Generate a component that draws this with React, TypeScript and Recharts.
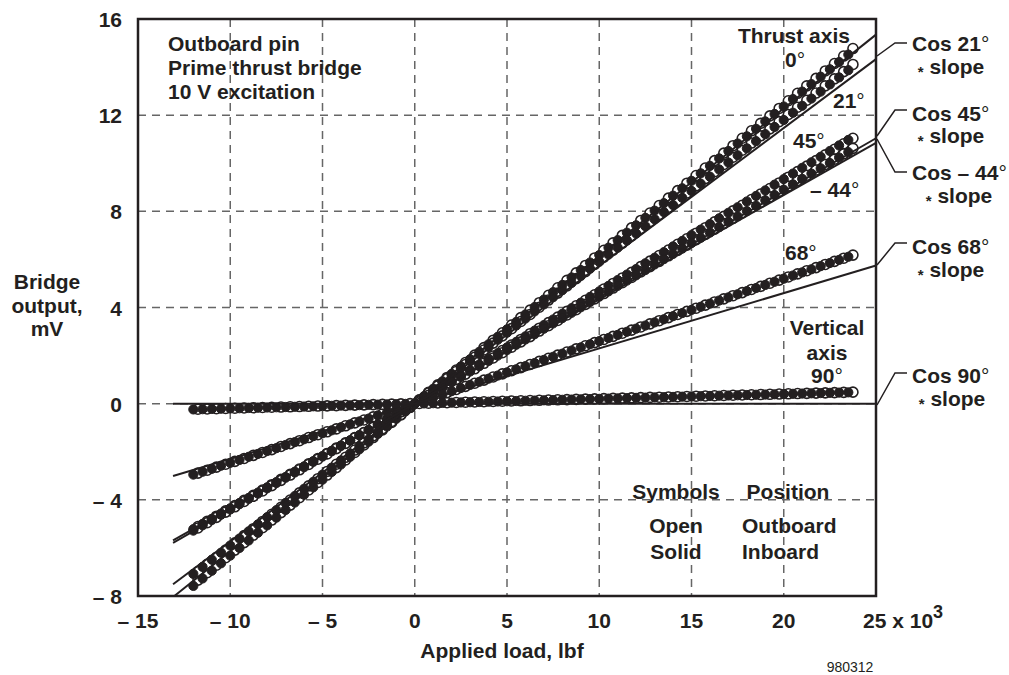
import React from "react";
import {
  ScatterChart,
  Scatter,
  XAxis,
  YAxis,
  CartesianGrid,
  ReferenceArea,
} from "recharts";

const X_TICKS = [-15, -10, -5, 0, 5, 10, 15, 20, 25];
const Y_TICKS = [-8, -4, 0, 4, 8, 12, 16];

// applied load (x 10^3 lbf): solid = inboard, open = outboard
const LOADS_IN = [
  -12, -11.5, -11, -10.5, -10, -9.5, -9, -8.5, -8, -7.5, -7, -6.5, -6, -5.5, -5, -4.5, -4, -3.5, -3, -2.5, -2, -1.5, -1, -0.5, 0,
  0.5, 1, 1.5, 2, 2.5, 3, 3.5, 4, 4.5, 5, 5.5, 6, 6.5, 7, 7.5, 8, 8.5, 9, 9.5, 10, 10.5, 11, 11.5, 12,
  12.5, 13, 13.5, 14, 14.5, 15, 15.5, 16, 16.5, 17, 17.5, 18, 18.5, 19, 19.5, 20, 20.5, 21, 21.5, 22, 22.5, 23, 23.5,
];
const LOADS_OUT = [
  -11.75, -11.25, -10.75, -10.25, -9.75, -9.25, -8.75, -8.25, -7.75, -7.25, -6.75, -6.25, -5.75, -5.25, -4.75, -4.25, -3.75, -3.25, -2.75, -2.25, -1.75, -1.25, -0.75, -0.25,
  0.25, 0.75, 1.25, 1.75, 2.25, 2.75, 3.25, 3.75, 4.25, 4.75, 5.25, 5.75, 6.25, 6.75, 7.25, 7.75, 8.25, 8.75, 9.25, 9.75, 10.25, 10.75, 11.25, 11.75,
  12.25, 12.75, 13.25, 13.75, 14.25, 14.75, 15.25, 15.75, 16.25, 16.75, 17.25, 17.75, 18.25, 18.75, 19.25, 19.75, 20.25, 20.75, 21.25, 21.75, 22.25, 22.75, 23.25, 23.75,
];

// bridge output, mV
const IN_0 = [
  -7.58, -7.27, -6.95, -6.64, -6.32, -6.0, -5.69, -5.37, -5.06, -4.74, -4.42, -4.11, -3.79, -3.48, -3.16, -2.84, -2.53, -2.21, -1.9, -1.58, -1.26, -0.95, -0.63, -0.32, 0,
  0.31, 0.62, 0.93, 1.24, 1.55, 1.85, 2.16, 2.47, 2.78, 3.09, 3.4, 3.71, 4.02, 4.33, 4.64, 4.94, 5.25, 5.56, 5.87, 6.18, 6.49, 6.8, 7.11, 7.42,
  7.73, 8.03, 8.34, 8.65, 8.96, 9.27, 9.58, 9.89, 10.2, 10.51, 10.82, 11.12, 11.43, 11.74, 12.05, 12.36, 12.67, 12.98, 13.29, 13.6, 13.91, 14.21, 14.52,
];
const OUT_0 = [
  -7.34, -7.03, -6.72, -6.41, -6.09, -5.78, -5.47, -5.16, -4.84, -4.53, -4.22, -3.91, -3.59, -3.28, -2.97, -2.66, -2.34, -2.03, -1.72, -1.41, -1.09, -0.78, -0.47, -0.16,
  0.16, 0.47, 0.78, 1.09, 1.4, 1.71, 2.02, 2.33, 2.64, 2.95, 3.27, 3.58, 3.89, 4.2, 4.51, 4.82, 5.13, 5.44, 5.75, 6.06, 6.38, 6.69, 7.0, 7.31,
  7.62, 7.93, 8.24, 8.55, 8.86, 9.17, 9.49, 9.8, 10.11, 10.42, 10.73, 11.04, 11.35, 11.66, 11.97, 12.28, 12.6, 12.91, 13.22, 13.53, 13.84, 14.15, 14.46, 14.77,
];
const IN_21 = [
  -7.08, -6.79, -6.49, -6.2, -5.9, -5.61, -5.31, -5.02, -4.72, -4.43, -4.13, -3.84, -3.54, -3.25, -2.95, -2.66, -2.36, -2.07, -1.77, -1.48, -1.18, -0.89, -0.59, -0.3, 0,
  0.3, 0.59, 0.89, 1.18, 1.48, 1.77, 2.07, 2.36, 2.66, 2.95, 3.25, 3.54, 3.84, 4.13, 4.43, 4.72, 5.02, 5.31, 5.61, 5.9, 6.2, 6.49, 6.79, 7.08,
  7.38, 7.67, 7.97, 8.26, 8.56, 8.85, 9.15, 9.44, 9.74, 10.03, 10.33, 10.62, 10.92, 11.21, 11.51, 11.8, 12.1, 12.39, 12.69, 12.98, 13.28, 13.57, 13.87,
];
const OUT_21 = [
  -6.98, -6.68, -6.39, -6.09, -5.79, -5.49, -5.2, -4.9, -4.6, -4.31, -4.01, -3.71, -3.42, -3.12, -2.82, -2.52, -2.23, -1.93, -1.63, -1.34, -1.04, -0.74, -0.45, -0.15,
  0.15, 0.45, 0.74, 1.04, 1.34, 1.63, 1.93, 2.23, 2.52, 2.82, 3.12, 3.42, 3.71, 4.01, 4.31, 4.6, 4.9, 5.2, 5.49, 5.79, 6.09, 6.39, 6.68, 6.98,
  7.28, 7.57, 7.87, 8.17, 8.46, 8.76, 9.06, 9.36, 9.65, 9.95, 10.25, 10.54, 10.84, 11.14, 11.43, 11.73, 12.03, 12.33, 12.62, 12.92, 13.22, 13.51, 13.81, 14.11,
];
const IN_45 = [
  -5.22, -5.0, -4.79, -4.57, -4.35, -4.13, -3.92, -3.7, -3.48, -3.26, -3.05, -2.83, -2.61, -2.39, -2.18, -1.96, -1.74, -1.52, -1.31, -1.09, -0.87, -0.65, -0.44, -0.22, 0,
  0.23, 0.47, 0.7, 0.93, 1.17, 1.4, 1.63, 1.87, 2.1, 2.34, 2.57, 2.8, 3.04, 3.27, 3.5, 3.74, 3.97, 4.2, 4.44, 4.67, 4.9, 5.14, 5.37, 5.6,
  5.84, 6.07, 6.3, 6.54, 6.77, 7.01, 7.24, 7.47, 7.71, 7.94, 8.17, 8.41, 8.64, 8.87, 9.11, 9.34, 9.57, 9.81, 10.04, 10.27, 10.51, 10.74, 10.97,
];
const OUT_45 = [
  -5.11, -4.89, -4.68, -4.46, -4.24, -4.02, -3.81, -3.59, -3.37, -3.15, -2.94, -2.72, -2.5, -2.28, -2.07, -1.85, -1.63, -1.41, -1.2, -0.98, -0.76, -0.54, -0.33, -0.11,
  0.12, 0.35, 0.58, 0.81, 1.05, 1.28, 1.51, 1.74, 1.98, 2.21, 2.44, 2.67, 2.91, 3.14, 3.37, 3.6, 3.84, 4.07, 4.3, 4.53, 4.77, 5.0, 5.23, 5.46,
  5.7, 5.93, 6.16, 6.39, 6.63, 6.86, 7.09, 7.32, 7.56, 7.79, 8.02, 8.25, 8.49, 8.72, 8.95, 9.18, 9.42, 9.65, 9.88, 10.11, 10.35, 10.58, 10.81, 11.04,
];
const IN_M44 = [
  -5.28, -5.06, -4.84, -4.62, -4.4, -4.18, -3.96, -3.74, -3.52, -3.3, -3.08, -2.86, -2.64, -2.42, -2.2, -1.98, -1.76, -1.54, -1.32, -1.1, -0.88, -0.66, -0.44, -0.22, 0,
  0.22, 0.45, 0.67, 0.89, 1.11, 1.34, 1.56, 1.78, 2.0, 2.23, 2.45, 2.67, 2.89, 3.12, 3.34, 3.56, 3.78, 4.01, 4.23, 4.45, 4.67, 4.9, 5.12, 5.34,
  5.56, 5.79, 6.01, 6.23, 6.45, 6.68, 6.9, 7.12, 7.34, 7.57, 7.79, 8.01, 8.23, 8.46, 8.68, 8.9, 9.12, 9.35, 9.57, 9.79, 10.01, 10.24, 10.46,
];
const OUT_M44 = [
  -5.17, -4.95, -4.73, -4.51, -4.29, -4.07, -3.85, -3.63, -3.41, -3.19, -2.97, -2.75, -2.53, -2.31, -2.09, -1.87, -1.65, -1.43, -1.21, -0.99, -0.77, -0.55, -0.33, -0.11,
  0.11, 0.34, 0.56, 0.78, 1.01, 1.23, 1.45, 1.68, 1.9, 2.12, 2.35, 2.57, 2.79, 3.02, 3.24, 3.46, 3.69, 3.91, 4.13, 4.36, 4.58, 4.81, 5.03, 5.25,
  5.48, 5.7, 5.92, 6.15, 6.37, 6.59, 6.82, 7.04, 7.26, 7.49, 7.71, 7.93, 8.16, 8.38, 8.6, 8.83, 9.05, 9.28, 9.5, 9.72, 9.95, 10.17, 10.39, 10.62,
];
const IN_68 = [
  -2.95, -2.83, -2.71, -2.58, -2.46, -2.34, -2.21, -2.09, -1.97, -1.85, -1.72, -1.6, -1.48, -1.35, -1.23, -1.11, -0.98, -0.86, -0.74, -0.62, -0.49, -0.37, -0.25, -0.12, 0,
  0.13, 0.26, 0.39, 0.52, 0.65, 0.78, 0.91, 1.04, 1.17, 1.3, 1.43, 1.56, 1.69, 1.82, 1.95, 2.08, 2.21, 2.34, 2.47, 2.6, 2.73, 2.86, 2.99, 3.12,
  3.25, 3.38, 3.51, 3.64, 3.77, 3.9, 4.03, 4.16, 4.29, 4.42, 4.55, 4.68, 4.81, 4.94, 5.07, 5.2, 5.33, 5.46, 5.59, 5.72, 5.85, 5.98, 6.11,
];
const OUT_68 = [
  -2.89, -2.77, -2.64, -2.52, -2.4, -2.28, -2.15, -2.03, -1.91, -1.78, -1.66, -1.54, -1.41, -1.29, -1.17, -1.05, -0.92, -0.8, -0.68, -0.55, -0.43, -0.31, -0.18, -0.06,
  0.07, 0.2, 0.33, 0.46, 0.59, 0.72, 0.85, 0.98, 1.11, 1.24, 1.37, 1.5, 1.63, 1.76, 1.89, 2.02, 2.15, 2.28, 2.41, 2.54, 2.67, 2.8, 2.93, 3.06,
  3.19, 3.32, 3.45, 3.58, 3.71, 3.84, 3.97, 4.1, 4.23, 4.36, 4.49, 4.62, 4.75, 4.88, 5.01, 5.14, 5.27, 5.4, 5.53, 5.66, 5.79, 5.92, 6.05, 6.18,
];
const IN_90 = [
  -0.24, -0.23, -0.22, -0.21, -0.2, -0.19, -0.18, -0.17, -0.16, -0.15, -0.14, -0.13, -0.12, -0.11, -0.1, -0.09, -0.08, -0.07, -0.06, -0.05, -0.04, -0.03, -0.02, -0.01, 0,
  0.01, 0.02, 0.03, 0.04, 0.05, 0.06, 0.07, 0.08, 0.09, 0.1, 0.11, 0.12, 0.13, 0.14, 0.15, 0.16, 0.17, 0.18, 0.19, 0.2, 0.21, 0.22, 0.23, 0.24,
  0.25, 0.26, 0.27, 0.28, 0.29, 0.3, 0.31, 0.32, 0.33, 0.34, 0.35, 0.36, 0.37, 0.38, 0.39, 0.4, 0.41, 0.42, 0.43, 0.44, 0.45, 0.46, 0.47,
];
const OUT_90 = [
  -0.23, -0.22, -0.21, -0.2, -0.19, -0.18, -0.17, -0.16, -0.15, -0.14, -0.13, -0.12, -0.11, -0.1, -0.09, -0.08, -0.07, -0.06, -0.05, -0.04, -0.03, -0.02, -0.01, 0,
  0.01, 0.02, 0.03, 0.04, 0.05, 0.06, 0.07, 0.08, 0.09, 0.1, 0.11, 0.12, 0.13, 0.14, 0.15, 0.16, 0.17, 0.18, 0.19, 0.2, 0.21, 0.22, 0.23, 0.24,
  0.25, 0.26, 0.27, 0.28, 0.29, 0.3, 0.31, 0.32, 0.33, 0.34, 0.35, 0.36, 0.37, 0.38, 0.39, 0.4, 0.41, 0.42, 0.43, 0.44, 0.45, 0.46, 0.47, 0.48,
];

// cos(angle) * slope reference lines: [start, end]
const LINE_LOADS = [-13.1, 25];
const LINE_0_LOADS = [-13.03, 25];
const LINE_0 = [-8.0, 15.35];
const LINE_21 = [-7.51, 14.33];
const LINE_45 = [-5.69, 10.85];
const LINE_M44 = [-5.79, 11.04];
const LINE_68 = [-3.01, 5.75];
const LINE_90 = [0, 0];

const INK = "#231f20";
const FONT = "'Liberation Sans', Arial, Helvetica, sans-serif";
const FS = 21;

const pts = (xs: number[], ys: number[]) => xs.map((x, i) => ({ x, y: ys[i] }));

const solidDot = (p: any) => (
  <circle cx={p.cx} cy={p.cy} r={4.6} fill={INK} stroke={INK} strokeWidth={1} />
);
const openDot = (p: any) => (
  <circle cx={p.cx} cy={p.cy} r={5} fill="#fff" stroke={INK} strokeWidth={1.6} />
);
const noDot = () => <g />;

const fmt = (v: number) => (v < 0 ? `\u2013 ${Math.abs(v)}` : String(v));

const XTick = (props: any) => {
  const { x, y, payload } = props;
  const v = payload.value;
  if (v === 25) {
    return (
      <text x={x - 13} y={y + 30} fontFamily={FONT} fontWeight="bold" fontSize={FS} fill={INK}>
        <tspan>25 x 10</tspan>
        <tspan dy={-10} fontSize={18}>3</tspan>
      </text>
    );
  }
  return (
    <text x={x} y={y + 30} textAnchor="middle" fontFamily={FONT} fontWeight="bold" fontSize={FS} fill={INK}>
      {fmt(v)}
    </text>
  );
};

const YTick = (props: any) => {
  const { x, y, payload } = props;
  return (
    <text x={x - 14} y={y + 8} textAnchor="end" fontFamily={FONT} fontWeight="bold" fontSize={FS} fill={INK}>
      {fmt(payload.value)}
    </text>
  );
};

const T = ({ x, y, a = "start", s = FS, w = "bold", children }: any) => (
  <text x={x} y={y} textAnchor={a} fontFamily={FONT} fontWeight={w} fontSize={s} fill={INK}>
    {children}
  </text>
);

const Deg = () => <tspan fontWeight="normal">°</tspan>;

const Slope = ({ x, y }: any) => (
  <text x={x} y={y} textAnchor="middle" fontFamily={FONT} fontWeight="bold" fontSize={FS} fill={INK}>
    <tspan fontSize={15} dy={3}>*</tspan>
    <tspan dy={-3}> slope</tspan>
  </text>
);

const Leader = ({ pts: p }: any) => (
  <polyline points={p} fill="none" stroke={INK} strokeWidth={1.5} />
);

export default function App() {
  const series = [
    [IN_0, OUT_0],
    [IN_21, OUT_21],
    [IN_45, OUT_45],
    [IN_M44, OUT_M44],
    [IN_68, OUT_68],
    [IN_90, OUT_90],
  ];
  const lines = [
    pts(LINE_0_LOADS, LINE_0),
    pts(LINE_LOADS, LINE_21),
    pts(LINE_LOADS, LINE_45),
    pts(LINE_LOADS, LINE_M44),
    pts(LINE_LOADS, LINE_68),
    pts(LINE_LOADS, LINE_90),
  ];

  return (
    <div style={{ position: "absolute", left: 0, top: 0, width: 1009, height: 675, background: "#fff" }}>
      <ScatterChart width={1009} height={675} margin={{ top: 19, right: 133, bottom: 49, left: 0 }}>
        <CartesianGrid strokeDasharray="8 6" stroke="#666" strokeWidth={1.5} />
        <XAxis
          type="number"
          dataKey="x"
          domain={[-15, 25]}
          ticks={X_TICKS}
          axisLine={false}
          tickLine={false}
          tickSize={0}
          height={30}
          tick={<XTick />}
          interval={0}
        />
        <YAxis
          type="number"
          dataKey="y"
          domain={[-8, 16]}
          ticks={Y_TICKS}
          axisLine={false}
          tickLine={false}
          tickSize={0}
          width={138}
          tick={<YTick />}
          interval={0}
        />
        {series.map(([, outb], i) => (
          <Scatter key={`out${i}`} data={pts(LOADS_OUT, outb)} shape={openDot} isAnimationActive={false} />
        ))}
        {series.map(([inb], i) => (
          <Scatter key={`in${i}`} data={pts(LOADS_IN, inb)} shape={solidDot} isAnimationActive={false} />
        ))}
        {lines.map((d, i) => (
          <Scatter
            key={`line${i}`}
            data={d}
            line={{ stroke: INK, strokeWidth: 2 }}
            shape={noDot}
            isAnimationActive={false}
          />
        ))}
        <ReferenceArea x1={-15} x2={25} y1={-8} y2={16} fill="none" stroke={INK} strokeWidth={2.5} ifOverflow="visible" />
      </ScatterChart>

      <svg width={1009} height={675} style={{ position: "absolute", left: 0, top: 0, pointerEvents: "none" }}>
        <T x={168} y={51}>Outboard pin</T>
        <T x={168} y={75}>Prime thrust bridge</T>
        <T x={168} y={99}>10 V excitation</T>

        <T x={850} y={43} a="end">Thrust axis</T>
        <T x={785} y={67}>0<Deg /></T>
        <T x={833} y={108}>21<Deg /></T>
        <T x={793} y={148}>45<Deg /></T>
        <T x={810} y={197}>{"\u2013 44"}<Deg /></T>
        <T x={785} y={260}>68<Deg /></T>
        <T x={827} y={335} a="middle">Vertical</T>
        <T x={827} y={360} a="middle">axis</T>
        <T x={827} y={383} a="middle">90<Deg /></T>

        <T x={912} y={51}>Cos 21<Deg /></T>
        <Slope x={951} y={74} />
        <T x={912} y={121}>Cos 45<Deg /></T>
        <Slope x={951} y={143} />
        <T x={912} y={180}>{"Cos \u2013 44"}<Deg /></T>
        <Slope x={959} y={203} />
        <T x={912} y={254}>Cos 68<Deg /></T>
        <Slope x={951} y={277} />
        <T x={912} y={383}>Cos 90<Deg /></T>
        <Slope x={952} y={406} />

        <Leader pts="877,56 895,43 907,43" />
        <Leader pts="877,136 895,110 907,110" />
        <Leader pts="877,139 895,172 907,172" />
        <Leader pts="877,265 895,243 907,243" />
        <Leader pts="877,405 895,373 907,373" />

        <T x={676} y={499} a="middle">Symbols</T>
        <T x={788} y={499} a="middle">Position</T>
        <T x={676} y={533} a="middle">Open</T>
        <T x={676} y={559} a="middle">Solid</T>
        <T x={742} y={533}>Outboard</T>
        <T x={742} y={559}>Inboard</T>

        <T x={47} y={289} a="middle">Bridge</T>
        <T x={47} y={313} a="middle">output,</T>
        <T x={47} y={336} a="middle">mV</T>

        <T x={502} y={658} a="middle">Applied load, lbf</T>
        <T x={850} y={672} a="middle" s={14} w="normal">980312</T>
      </svg>
    </div>
  );
}
